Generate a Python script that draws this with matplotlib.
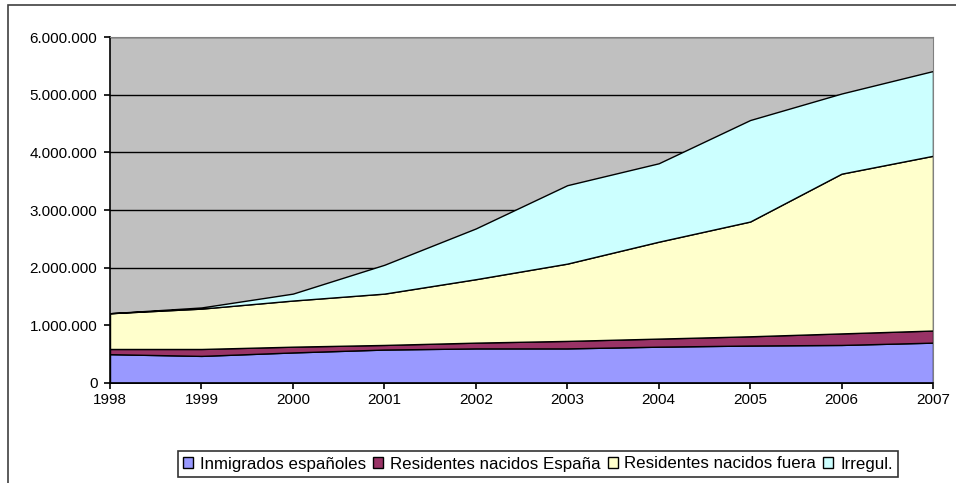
import matplotlib.pyplot as plt
from matplotlib.patches import Rectangle
from matplotlib.ticker import FuncFormatter

plt.rcParams['font.family'] = ['Liberation Sans', 'DejaVu Sans']

years = [1998, 1999, 2000, 2001, 2002, 2003, 2004, 2005, 2006, 2007]
inmigrados_espanoles = [500000, 470000, 530000, 580000, 600000, 600000, 630000, 650000, 660000, 700000]
residentes_nacidos_espana = [90000, 120000, 100000, 80000, 100000, 130000, 140000, 160000, 200000, 210000]
residentes_nacidos_fuera = [620000, 700000, 800000, 890000, 1100000, 1340000, 1680000, 1990000, 2770000, 3030000]
irregulares = [0, 20000, 120000, 500000, 880000, 1360000, 1360000, 1760000, 1390000, 1470000]

labels = ['Inmigrados españoles', 'Residentes nacidos España', 'Residentes nacidos fuera', 'Irregul.']
colors = ['#9999FF', '#993366', '#FFFFCC', '#CCFFFF']

fig = plt.figure(figsize=(9.56, 4.83), dpi=100)
ax = fig.add_axes([110 / 956, 100 / 483, 823 / 956, 346 / 483])
ax.set_facecolor('#C0C0C0')

# stacked areas
polys = ax.stackplot(years, inmigrados_espanoles, residentes_nacidos_espana,
                     residentes_nacidos_fuera, irregulares,
                     colors=colors, labels=labels, edgecolor='black', linewidth=1.0)

ax.set_xlim(1998, 2007)
ax.set_ylim(0, 6000000)
ax.set_xticks(years)
ax.set_yticks(range(0, 6000001, 1000000))
ax.yaxis.set_major_formatter(FuncFormatter(lambda v, p: f'{int(v):,}'.replace(',', '.')))
ax.grid(axis='y', color='black', linewidth=1)
ax.set_axisbelow(True)
ax.tick_params(axis='both', direction='out', length=4, width=1.2, labelsize=11, colors='black')
ax.tick_params(axis='x', pad=3)
ax.tick_params(axis='y', pad=5)

ax.spines['left'].set_color('black')
ax.spines['left'].set_linewidth(1.2)
ax.spines['bottom'].set_color('black')
ax.spines['bottom'].set_linewidth(1.2)
ax.spines['top'].set_color('#808080')
ax.spines['right'].set_color('#808080')

# outer frame
fig.patches.append(Rectangle((8 / 956, -0.01), 1.0, 478 / 483 + 0.01, transform=fig.transFigure,
                             fill=False, edgecolor='#404040', linewidth=1.2))

leg = fig.legend(handles=polys, labels=labels, loc='center', ncol=4,
                 bbox_to_anchor=(538 / 956, 19 / 483), fontsize=12.2, frameon=True,
                 fancybox=False, edgecolor='black', handlelength=0.6, handleheight=0.6,
                 handletextpad=0.4, columnspacing=0.4, borderpad=0.3, borderaxespad=0)
leg.get_frame().set_linewidth(1.2)

fig.savefig('out.png', dpi=100)
